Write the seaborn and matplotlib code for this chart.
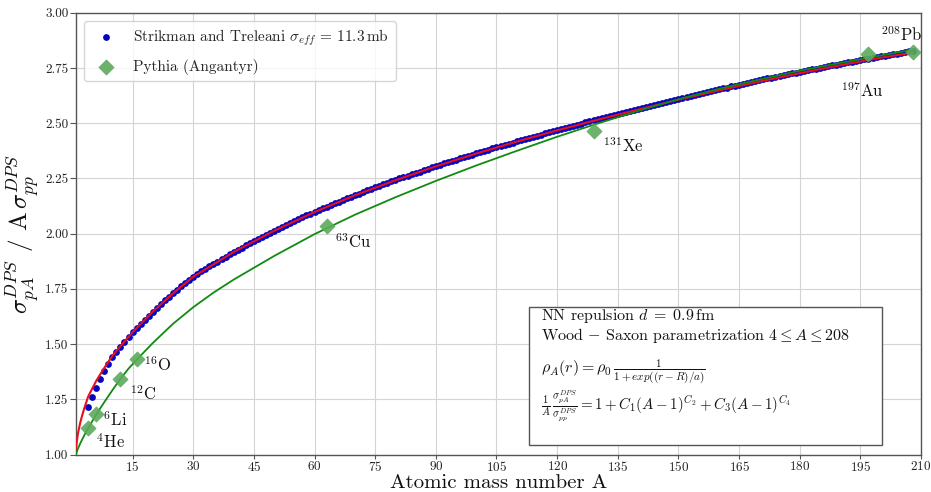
import numpy as np
import matplotlib
matplotlib.use("Agg")
import matplotlib.pyplot as plt
from matplotlib.patches import Rectangle
import seaborn as sns

# Strikman & Treleani calculation, one point per mass number A = 4 ... 208
st_mass = list(range(4, 209))
st_ratio = [
    1.216, 1.262, 1.303, 1.341, 1.376, 1.409, 1.440, 1.465, 1.488, 1.510,
    1.532, 1.553, 1.573, 1.592, 1.611, 1.629, 1.647, 1.664, 1.681, 1.698,
    1.714, 1.730, 1.745, 1.761, 1.776, 1.790, 1.805, 1.817, 1.829, 1.841,
    1.852, 1.863, 1.874, 1.885, 1.896, 1.907, 1.917, 1.927, 1.937, 1.947,
    1.957, 1.967, 1.977, 1.986, 1.995, 2.004, 2.014, 2.022, 2.031, 2.040,
    2.049, 2.057, 2.066, 2.074, 2.083, 2.091, 2.099, 2.107, 2.115, 2.122,
    2.130, 2.138, 2.145, 2.153, 2.160, 2.167, 2.175, 2.182, 2.189, 2.196,
    2.203, 2.210, 2.217, 2.223, 2.230, 2.237, 2.243, 2.250, 2.256, 2.263,
    2.269, 2.275, 2.281, 2.288, 2.294, 2.300, 2.306, 2.312, 2.318, 2.324,
    2.330, 2.335, 2.341, 2.347, 2.353, 2.358, 2.364, 2.369, 2.375, 2.381,
    2.386, 2.392, 2.397, 2.402, 2.408, 2.413, 2.418, 2.424, 2.429, 2.434,
    2.439, 2.444, 2.449, 2.454, 2.460, 2.465, 2.470, 2.475, 2.479, 2.484,
    2.489, 2.494, 2.499, 2.504, 2.509, 2.513, 2.518, 2.523, 2.528, 2.532,
    2.537, 2.542, 2.546, 2.551, 2.556, 2.560, 2.565, 2.570, 2.574, 2.579,
    2.583, 2.588, 2.593, 2.597, 2.602, 2.606, 2.611, 2.615, 2.619, 2.624,
    2.628, 2.632, 2.637, 2.641, 2.645, 2.650, 2.654, 2.658, 2.662, 2.667,
    2.671, 2.675, 2.679, 2.683, 2.687, 2.691, 2.695, 2.699, 2.703, 2.707,
    2.711, 2.714, 2.718, 2.722, 2.726, 2.730, 2.734, 2.737, 2.741, 2.744,
    2.748, 2.751, 2.755, 2.758, 2.762, 2.765, 2.769, 2.772, 2.776, 2.779,
    2.783, 2.786, 2.789, 2.793, 2.796, 2.799, 2.803, 2.806, 2.809, 2.813,
    2.816, 2.819, 2.823, 2.826, 2.829,
]

# fit through the Strikman & Treleani points (red curve)
st_fit_mass = [1, 1.05, 1.1, 1.25, 1.5, 2, 2.5, 3, 4, 5, 6, 7, 8, 9, 10, 12, 15,
               20, 25, 30, 40, 50, 60, 70, 80, 90, 100, 110, 120, 130, 140,
               150, 160, 170, 180, 190, 200, 208]
st_fit_ratio = [1.000, 1.027, 1.040, 1.065, 1.096, 1.140, 1.175, 1.206, 1.262,
                1.298, 1.333, 1.363, 1.392, 1.420, 1.447, 1.491, 1.554, 1.647,
                1.730, 1.805, 1.917, 2.013, 2.098, 2.174, 2.242, 2.305, 2.363,
                2.417, 2.468, 2.516, 2.562, 2.607, 2.649, 2.689, 2.727, 2.763,
                2.797, 2.820]

# Pythia (Angantyr) points
nuclei = ["He", "Li", "C", "O", "Cu", "Xe", "Au", "Pb"]
nuclei_label_mass = [4, 6, 12, 16, 63, 131, 197, 208]
py_mass = [4, 6, 12, 16, 63, 129, 197, 208]
py_ratio = [1.121, 1.182, 1.343, 1.431, 2.035, 2.466, 2.812, 2.824]

# fit through the Pythia points (green curve)
py_fit_mass = [1, 1.25, 1.5, 2, 2.5, 3, 4, 5, 6, 7, 8, 10, 12, 14, 16, 20, 25,
               30, 35, 40, 50, 60, 70, 80, 90, 100, 110, 120, 130, 140, 150,
               160, 170, 180, 190, 200, 208]
py_fit_ratio = [1.000, 1.015, 1.027, 1.048, 1.067, 1.085, 1.118, 1.150, 1.180,
                1.209, 1.237, 1.291, 1.343, 1.389, 1.429, 1.505, 1.592, 1.667,
                1.733, 1.792, 1.899, 1.998, 2.086, 2.165, 2.239, 2.309, 2.375,
                2.439, 2.499, 2.556, 2.609, 2.656, 2.698, 2.738, 2.773, 2.807,
                2.833]

# label offsets (points) for the nucleus names
label_offsets = [(5.5, -10), (4.8, -3.5), (6.7, -11), (5.3, -3.5),
                 (6, -11.5), (6.7, -11), (-20, -26), (-23, 12)]

sns.set_style("whitegrid", {
    "axes.edgecolor": "#555555",
    "grid.color": "#d4d4d4",
    "xtick.bottom": True,
    "ytick.left": True,
    "xtick.color": "#555555",
    "ytick.color": "#555555",
})
plt.rcParams["font.family"] = "serif"
plt.rcParams["font.serif"] = ["cmr10", "DejaVu Serif"]
plt.rcParams["mathtext.fontset"] = "cm"
plt.rcParams["axes.formatter.use_mathtext"] = True
plt.rcParams["axes.unicode_minus"] = False

fig = plt.figure(figsize=(9.31, 4.92), dpi=100)
ax = fig.add_axes([0.0816, 0.0762, 0.9077, 0.8976])

sns.scatterplot(x=st_mass, y=st_ratio, ax=ax, color="#0505c0", s=24,
                linewidth=0, zorder=2,
                label=r"Strikman and Treleani $\sigma_{eff}$ = 11.3$\,$mb")
sns.lineplot(x=st_fit_mass, y=st_fit_ratio, ax=ax, color="#e8101c",
             linewidth=1.5, zorder=3, sort=False, estimator=None)
sns.lineplot(x=py_fit_mass, y=py_fit_ratio, ax=ax, color="#118a11",
             linewidth=1.3, zorder=3, sort=False, estimator=None)
sns.scatterplot(x=py_mass, y=py_ratio, ax=ax, color="#5caa5c", marker="D",
                s=60, edgecolor="#5caa5c", linewidth=0.5, alpha=0.9, zorder=4,
                label="Pythia (Angantyr)")

for name, a, xa, ya, off in zip(nuclei, nuclei_label_mass, py_mass, py_ratio,
                                label_offsets):
    ax.annotate(r"$^{%d}$%s" % (a, name), xy=(xa, ya), xytext=off,
                textcoords="offset points", ha="left", va="center",
                fontsize=12, color="#111111")

ax.set_xlim(1, 210)
ax.set_ylim(1, 3)
ax.set_xticks(range(15, 211, 15))
ax.set_yticks(np.arange(1.0, 3.01, 0.25))
ax.yaxis.set_major_formatter(plt.FuncFormatter(lambda v, p: "%.2f" % v))
ax.tick_params(labelsize=9.5, length=4, width=0.8, pad=1.5,
               labelcolor="#222222")
ax.tick_params(axis="x", length=3, pad=1)
for sp in ax.spines.values():
    sp.set_linewidth(1.0)
ax.grid(True, linewidth=0.8)

ax.set_xlabel("Atomic mass number A", fontsize=15, color="#111111",
              labelpad=0)
ax.set_ylabel(r"$\sigma_{pA}^{DPS}$ / A$\,\sigma_{pp}^{DPS}$", fontsize=18,
              color="#111111", labelpad=3)

handles, labels = ax.get_legend_handles_labels()
ax.legend(handles, labels, loc="upper left", fontsize=11, frameon=True,
          framealpha=0.8, edgecolor="#cccccc", labelspacing=0.7,
          borderpad=0.45)

# info box
ax.add_patch(Rectangle((0.536, 0.0215), 0.4175, 0.3132, transform=ax.transAxes,
                       facecolor="white", edgecolor="#555555", linewidth=1.0,
                       zorder=5))
info_lines = [
    (0.3136, 11.5, r"NN repulsion $d\;=\;0.9\,\mathrm{fm}$"),
    (0.2706, 11.5, r"Wood $-$ Saxon parametrization $4 \leq A \leq 208$"),
    (0.1860, 11.5, r"$\rho_A(r) = \rho_0\,\frac{1}{1+exp((r-R)/a)}$"),
    (0.1100, 10.8, r"$\frac{1}{A}\,\frac{\sigma_{pA}^{DPS}}{\sigma_{pp}^{DPS}} = 1 + C_1(A-1)^{C_2} + C_3(A-1)^{C_4}$"),
]
for yy, fs, txt in info_lines:
    ax.text(0.55, yy, txt, transform=ax.transAxes, fontsize=fs, ha="left",
            va="center", color="#111111", zorder=6)

fig.savefig("out.png", dpi=100)
